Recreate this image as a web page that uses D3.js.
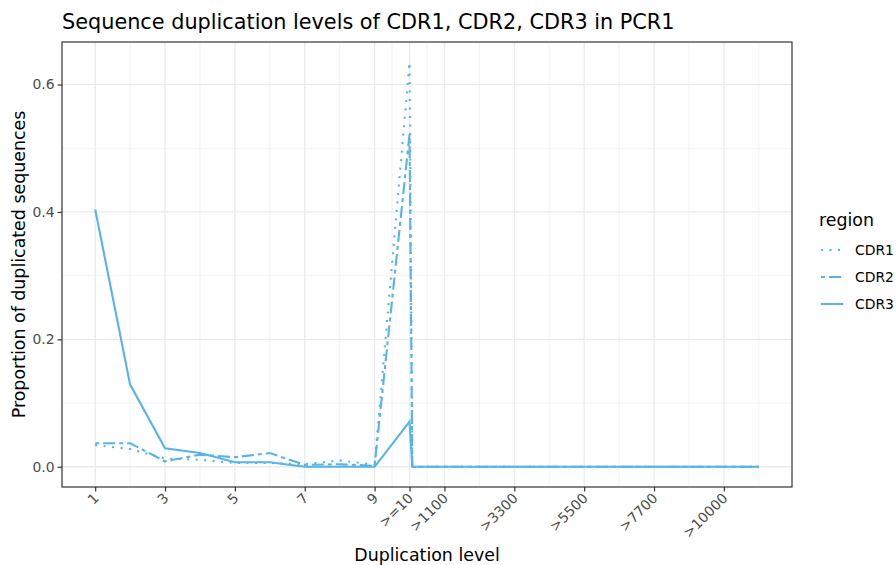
<!DOCTYPE html>
<html>
<head>
<meta charset="utf-8">
<script src="https://cdn.jsdelivr.net/npm/d3@7"></script>
<style>
  body { margin:0; background:#fff; }
  text { font-family:"DejaVu Sans", sans-serif; }
  .tick text { fill:#4D4D4D; font-size:13.9px; }
</style>
</head>
<body>
<svg id="chart" width="896" height="565"></svg>
<script>
// data
var levels = [1,2,3,4,5,6,7,8,9,10,10.08,11,12,13,14,15,16,17,18,19,20];
var cdr1 = [0.034,0.028,0.013,0.011,0.006,0.006,0.004,0.010,0.003,0.635,0,0,0,0,0,0,0,0,0,0,0];
var cdr2 = [0.037,0.037,0.0085,0.019,0.015,0.0215,0.003,0.004,0.0015,0.522,0,0,0,0,0,0,0,0,0,0,0];
var cdr3 = [0.404,0.129,0.029,0.0215,0.007,0.007,0,0,0,0.071,0,0,0,0,0,0,0,0,0,0,0];
var regions = ["CDR1","CDR2","CDR3"];
var xBreaks = [1,3,5,7,9,10,11,13,15,17,19];
var xLabels = ["1","3","5","7","9",">=10",">1100",">3300",">5500",">7700",">10000"];
var xMinor = [2,4,6,8,9.5,10.5,12,14,16,18,20];
var yBreaks = [0,0.2,0.4,0.6];
var yMinor = [0.1,0.3,0.5];

var svg = d3.select("#chart");
var panel = { left:62, right:792, top:42, bottom:487 };
var col = "#56B4E9";
var dashes = { CDR1:"2,6.5", CDR2:"4,4,12,4", CDR3:null };

var x = d3.scaleLinear().domain([0.05, 20.95]).range([panel.left, panel.right]);
var y = d3.scaleLinear().domain([-0.03175, 0.66675]).range([panel.bottom, panel.top]);

// grid
var grid = svg.append("g");
grid.selectAll("line.xminor").data(xMinor).enter().append("line")
    .attr("x1", function(d) { return x(d); }).attr("x2", function(d) { return x(d); })
    .attr("y1", panel.top).attr("y2", panel.bottom)
    .style("stroke", "#EBEBEB").style("stroke-width", 0.65);
grid.selectAll("line.yminor").data(yMinor).enter().append("line")
    .attr("y1", function(d) { return y(d); }).attr("y2", function(d) { return y(d); })
    .attr("x1", panel.left).attr("x2", panel.right)
    .style("stroke", "#EBEBEB").style("stroke-width", 0.65);
grid.selectAll("line.xmajor").data(xBreaks).enter().append("line")
    .attr("x1", function(d) { return x(d); }).attr("x2", function(d) { return x(d); })
    .attr("y1", panel.top).attr("y2", panel.bottom)
    .style("stroke", "#EBEBEB").style("stroke-width", 1.3);
grid.selectAll("line.ymajor").data(yBreaks).enter().append("line")
    .attr("y1", function(d) { return y(d); }).attr("y2", function(d) { return y(d); })
    .attr("x1", panel.left).attr("x2", panel.right)
    .style("stroke", "#EBEBEB").style("stroke-width", 1.3);

// lines
var series = [cdr1, cdr2, cdr3];
var line = d3.line()
    .x(function(d, i) { return x(levels[i]); })
    .y(function(d) { return y(d); });
series.forEach(function(s, k) {
  svg.append("path")
     .datum(s)
     .attr("d", line)
     .style("fill", "none")
     .style("stroke", col)
     .style("stroke-width", 2.1)
     .style("stroke-dasharray", dashes[regions[k]]);
});

// border
svg.append("rect")
   .attr("x", panel.left).attr("y", panel.top)
   .attr("width", panel.right - panel.left).attr("height", panel.bottom - panel.top)
   .style("fill", "none").style("stroke", "#333333").style("stroke-width", 1.2);

// axes
var xAxis = svg.append("g")
    .attr("transform", "translate(0," + panel.bottom + ")")
    .call(d3.axisBottom(x).tickValues(xBreaks).tickSize(4.4).tickPadding(2)
      .tickFormat(function(d, i) { return xLabels[i]; }));
xAxis.select(".domain").remove();
xAxis.selectAll(".tick line").style("stroke", "#333333").style("stroke-width", 1.2);
xAxis.selectAll(".tick text")
    .attr("text-anchor", "end")
    .attr("dy", null)
    .attr("y", 0)
    .attr("transform", "translate(4,12) rotate(-45)");

var yAxis = svg.append("g")
    .attr("transform", "translate(" + panel.left + ",0)")
    .call(d3.axisLeft(y).tickValues(yBreaks).tickSize(4.4).tickPadding(3)
      .tickFormat(d3.format(".1f")));
yAxis.select(".domain").remove();
yAxis.selectAll(".tick line").style("stroke", "#333333").style("stroke-width", 1.2);

// titles
svg.append("text")
   .attr("x", panel.left).attr("y", 29)
   .style("font-size", "20.8px").style("fill", "#000")
   .text("Sequence duplication levels of CDR1, CDR2, CDR3 in PCR1");
svg.append("text")
   .attr("x", (panel.left + panel.right) / 2).attr("y", 561)
   .attr("text-anchor", "middle")
   .style("font-size", "17.4px")
   .text("Duplication level");
svg.append("text")
   .attr("transform", "translate(25," + ((panel.top + panel.bottom) / 2) + ") rotate(-90)")
   .attr("text-anchor", "middle")
   .style("font-size", "17.4px")
   .text("Proportion of duplicated sequences");

// legend
var legend = svg.append("g").attr("transform", "translate(819,0)");
legend.append("text")
   .attr("x", 0).attr("y", 226)
   .style("font-size", "17.4px")
   .text("region");
var keyY = d3.scalePoint().domain(regions).range([250, 304]);
regions.forEach(function(r) {
  legend.append("line")
     .attr("x1", 2).attr("x2", 24)
     .attr("y1", keyY(r)).attr("y2", keyY(r))
     .style("stroke", col).style("stroke-width", 2.1)
     .style("stroke-dasharray", dashes[r]);
  legend.append("text")
     .attr("x", 36).attr("y", keyY(r)).attr("dy", "0.35em")
     .style("font-size", "13.9px")
     .text(r);
});
</script>
</body>
</html>
